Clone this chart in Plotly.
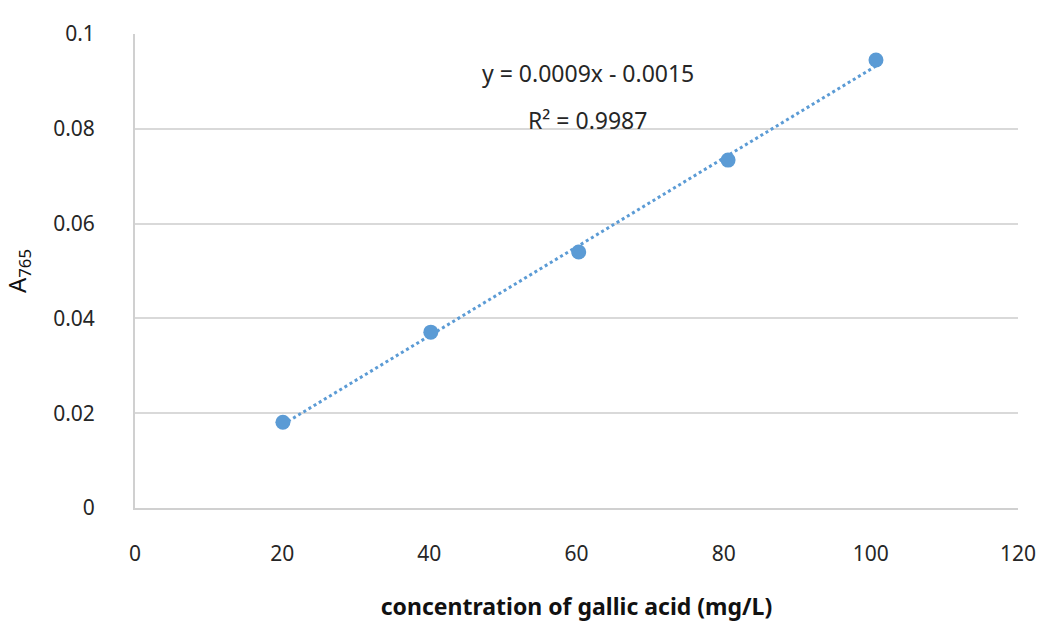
import numpy as np
import plotly.graph_objects as go

conc = [20.1, 40.2, 60.3, 80.6, 100.7]
absorb = [0.0181, 0.0371, 0.0540, 0.0734, 0.0945]
eq_text = "y = 0.0009x - 0.0015"
r2_text = "R² = 0.9987"

slope, intercept = np.polyfit(conc, absorb, 1)
tx = [min(conc), max(conc)]
ty = [slope * v + intercept for v in tx]

font = "Noto Sans, Open Sans, sans-serif"
blue = "#5B9BD5"

fig = go.Figure()
fig.add_trace(go.Scatter(x=tx, y=ty, mode="lines",
                         line=dict(color=blue, width=3, dash="dot"),
                         showlegend=False, hoverinfo="skip"))
fig.add_trace(go.Scatter(x=conc, y=absorb, mode="markers",
                         marker=dict(color=blue, size=15),
                         showlegend=False))

fig.add_annotation(x=61.5, y=0.0917, text=eq_text, showarrow=False,
                   font=dict(family=font, size=23, color="#262626"))
fig.add_annotation(x=61.5, y=0.0818, text=r2_text, showarrow=False,
                   font=dict(family=font, size=23, color="#262626"))

fig.update_layout(
    width=1041, height=622,
    margin=dict(l=135, r=23, t=34, b=114),
    plot_bgcolor="white", paper_bgcolor="white",
    xaxis=dict(range=[0, 120], tickvals=[0, 20, 40, 60, 80, 100, 120],
               showgrid=False, zeroline=False, showline=True,
               linecolor="#d0d0d0", linewidth=2, automargin=False,
               ticks="", ticklabelstandoff=26,
               tickfont=dict(family=font, size=21, color="#262626"),
               title=dict(text="<b>concentration of gallic acid (mg/L)</b>",
                          font=dict(family=font, size=23, color="#111"),
                          standoff=40)),
    yaxis=dict(range=[0, 0.1], tickvals=[0, 0.02, 0.04, 0.06, 0.08, 0.1],
               ticktext=["0", "0.02", "0.04", "0.06", "0.08", "0.1"],
               showgrid=True, gridcolor="#d9d9d9", gridwidth=1.5,
               zeroline=False, showline=True,
               linecolor="#d0d0d0", linewidth=2, automargin=False,
               ticks="", ticklabelstandoff=34,
               tickfont=dict(family=font, size=21, color="#262626"),
               title=dict(text="A<sub>765</sub>",
                          font=dict(family=font, size=24, color="#111"),
                          standoff=20)),
)

fig.write_html("out.html")
